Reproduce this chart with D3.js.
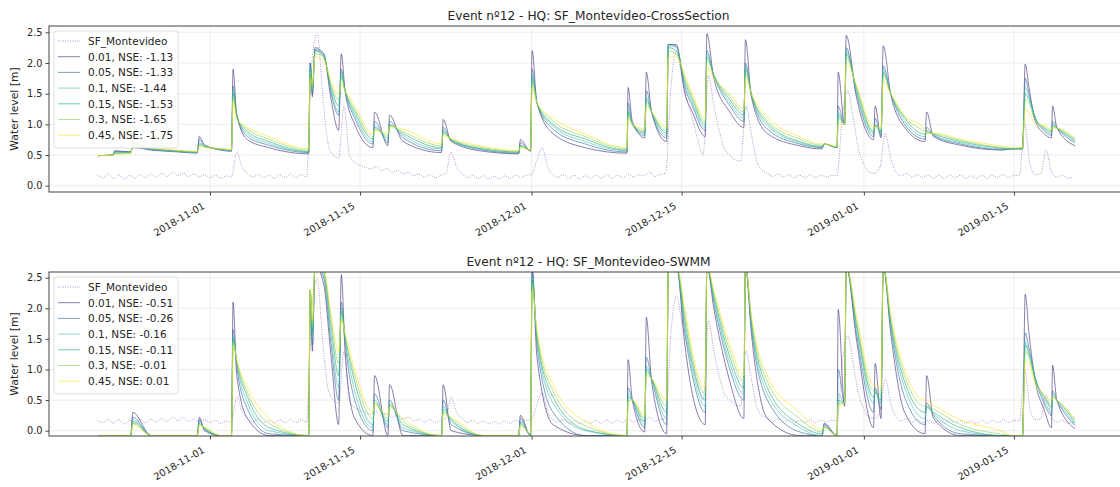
<!DOCTYPE html>
<html>
<head>
<meta charset="utf-8">
<script src="https://cdn.jsdelivr.net/npm/d3@7"></script>
<style>
  html, body { margin: 0; padding: 0; background: #ffffff; }
  svg { display: block; }
  text { font-family: "DejaVu Sans", sans-serif; fill: #262626; }
</style>
</head>
<body>
<svg id="chart" width="1120" height="487"></svg>
<script>
// ---------------- DATA ----------------
// time axis: days since 2018-11-01 00:00 (UTC)
const baseDate = "2018-11-01";
const xTickLabels = ["2018-11-01", "2018-11-15", "2018-12-01", "2018-12-15", "2019-01-01", "2019-01-15"];
const yTickValues = [0.0, 0.5, 1.0, 1.5, 2.0, 2.5];

const titles = ["Event nº12 - HQ: SF_Montevideo-CrossSection", "Event nº12 - HQ: SF_Montevideo-SWMM"];
const obsName = "SF_Montevideo";
const roughness = ["0.01", "0.05", "0.1", "0.15", "0.3", "0.45"];
const nseCrossSection = ["-1.13", "-1.33", "-1.44", "-1.53", "-1.65", "-1.75"];
const nseSWMM = ["-0.51", "-0.26", "-0.16", "-0.11", "-0.01", "0.01"];

// observed water level, sampled every 12 h starting at day -10.5
const obsStart = -10.5;
const obsStep = 0.5;
const observed = [
  0.17,0.13,0.19,0.12,0.18,0.11,0.17,0.12,0.18,0.13,
  0.19,0.14,0.20,0.15,0.22,0.16,0.21,0.15,0.19,0.14,
  0.18,0.13,0.17,0.12,0.16,0.14,0.55,0.30,0.20,0.14,
  0.18,0.13,0.17,0.12,0.18,0.13,0.19,0.13,0.18,0.14,
  2.00,2.48,1.50,0.70,0.50,0.45,1.30,0.50,0.38,0.33,
  0.30,0.27,0.31,0.25,0.28,0.22,0.25,0.19,0.22,0.16,
  0.19,0.14,0.18,0.13,0.17,0.20,0.55,0.30,0.20,0.13,
  0.17,0.12,0.16,0.11,0.15,0.11,0.16,0.12,0.17,0.13,
  0.17,0.18,0.42,0.62,0.30,0.18,0.14,0.18,0.12,0.17,
  0.11,0.16,0.12,0.17,0.12,0.18,0.12,0.17,0.13,0.19,
  0.14,0.18,0.16,0.22,0.15,0.18,0.20,1.60,2.20,1.80,
  1.40,1.10,0.75,0.50,1.80,1.30,0.90,0.60,0.50,0.42,
  0.40,1.30,0.85,0.40,0.25,0.20,0.15,0.19,0.14,0.18,
  0.13,0.17,0.13,0.18,0.13,0.17,0.14,0.17,0.16,1.15,
  1.55,1.10,0.60,0.35,0.22,0.20,0.30,0.85,0.45,0.22,
  0.16,0.20,0.14,0.18,0.13,0.17,0.12,0.17,0.12,0.18,
  0.13,0.17,0.12,0.16,0.12,0.17,0.12,0.17,0.13,0.18,
  0.13,0.17,0.16,1.00,0.35,0.18,0.20,0.58,0.22,0.14,
  0.17,0.12,0.14
];

// simulated series sample times (days since 2018-11-01)
const simDays = [
  -10.4,-9.0,-8.9,-7.4,-7.2,-5.5,-3.0,-1.2,-1.0,-0.5,
  1.0,2.0,2.15,2.5,3.5,5.5,9.2,9.35,9.55,9.8,
  10.6,11.3,12.0,12.25,12.6,13.5,15.2,15.35,16.6,16.75,
  18.0,21.6,21.75,22.5,25.5,28.8,28.95,29.9,30.05,30.5,
  32.0,35.0,38.9,39.0,39.4,40.55,40.7,41.2,42.6,42.75,
  43.5,44.3,45.0,46.2,46.35,47.0,48.5,49.8,49.95,50.5,
  52.0,55.0,57.1,57.3,58.5,58.6,59.2,59.35,60.3,61.9,
  62.05,62.6,62.8,63.5,64.8,66.7,66.85,67.5,70.0,74.0,
  74.8,75.8,76.05,76.4,77.0,77.8,78.5,78.6,79.0,80.7
];

// CrossSection model
const cs001 = [.49,.50,.57,.55,.62,.58,.55,.53,.80,.66, .58,.56,1.90,1.15,.75,.62,.52,2.0,1.45,2.25, 2.15,1.4,.90,2.15,1.55,1.0,.62,1.2,.65,1.15, .72,.54,1.08,.72,.56,.52,.75,.56,2.2,1.35, .85,.62,.53,1.6,1.05,.78,1.85,1.2,.72,2.3, 2.3,1.5,1.2,.8,2.48,1.75,1.2,.95,2.38,1.45, .85,.65,.60,.68,.62,1.85,1.0,2.45,1.45,.75, 1.3,.78,2.28,1.5,.95,.72,1.2,.80,.66,.58, .60,.60,1.98,1.6,1.05,.85,.78,1.3,.95,.65];
const cs005 = [.49,.50,.56,.55,.63,.59,.56,.54,.75,.66, .59,.57,1.62,1.15,.80,.66,.54,2.0,1.5,2.22, 2.15,1.5,1.15,1.9,1.55,1.1,.68,1.05,.70,1.05, .78,.57,.95,.74,.58,.53,.70,.57,1.9,1.35, .92,.68,.55,1.35,1.0,.82,1.55,1.2,.78,2.3, 2.28,1.6,1.3,.9,2.2,1.8,1.3,1.05,2.0,1.5, .92,.68,.62,.68,.62,1.3,1.0,2.25,1.5,.8, 1.1,.82,1.95,1.5,1.0,.76,.95,.82,.68,.59, .60,.60,1.75,1.5,1.1,.9,.82,1.05,.95,.7];
const cs010 = [.49,.50,.54,.54,.66,.60,.56,.54,.70,.65, .59,.57,1.55,1.15,.84,.69,.55,1.95,1.55,2.2, 2.12,1.55,1.2,1.85,1.55,1.15,.72,.98,.74,1.0, .82,.60,.9,.74,.59,.54,.66,.57,1.8,1.35, .97,.72,.57,1.25,1.0,.85,1.45,1.2,.82,2.28, 2.25,1.65,1.35,.95,2.15,1.8,1.35,1.1,1.95,1.5, .98,.70,.63,.68,.62,1.2,1.0,2.2,1.55,.84, 1.0,.85,1.9,1.5,1.05,.80,.9,.83,.70,.60, .60,.61,1.6,1.45,1.1,.92,.85,1.0,.94,.72];
const cs015 = [.49,.50,.53,.54,.68,.60,.57,.55,.68,.64, .60,.58,1.50,1.12,.88,.72,.56,1.9,1.6,2.2, 2.1,1.6,1.3,1.8,1.55,1.2,.76,.95,.78,.98, .85,.62,.88,.75,.60,.55,.65,.58,1.75,1.35, 1.0,.76,.58,1.2,1.0,.87,1.4,1.2,.86,2.25, 2.2,1.7,1.4,1.0,2.1,1.8,1.4,1.15,1.9,1.5, 1.02,.72,.64,.68,.63,1.15,1.0,2.15,1.6,.87, .98,.88,1.85,1.5,1.1,.84,.88,.84,.72,.61, .60,.61,1.5,1.4,1.1,.94,.88,.98,.94,.74];
const cs030 = [.49,.50,.52,.53,.70,.61,.57,.55,.66,.63, .60,.58,1.45,1.10,.92,.76,.58,1.85,1.6,2.15, 2.1,1.65,1.4,1.75,1.55,1.25,.80,.92,.82,.97, .88,.65,.85,.76,.62,.56,.64,.58,1.7,1.35, 1.05,.80,.60,1.15,1.0,.9,1.35,1.2,.9,2.2, 2.15,1.75,1.45,1.05,2.05,1.8,1.45,1.2,1.85,1.5, 1.06,.76,.66,.68,.63,1.1,1.0,2.1,1.6,.9, .96,.9,1.8,1.5,1.12,.88,.86,.85,.74,.62, .61,.62,1.4,1.35,1.05,.96,.9,.96,.94,.76];
const cs045 = [.49,.50,.51,.52,.66,.62,.58,.56,.64,.62, .61,.59,1.38,1.08,.95,.80,.60,1.75,1.65,2.1, 2.05,1.7,1.5,1.65,1.55,1.3,.85,.9,.86,.96, .92,.68,.82,.77,.64,.57,.62,.58,1.6,1.35, 1.1,.84,.62,1.1,1.0,.93,1.3,1.2,.95,2.1, 2.1,1.8,1.5,1.1,1.95,1.75,1.5,1.25,1.75,1.5, 1.12,.80,.68,.68,.64,1.0,1.0,2.0,1.65,.95, .95,.94,1.7,1.5,1.15,.92,.84,.86,.76,.64, .62,.62,1.25,1.2,1.0,.98,.92,.94,.94,.78];

// SWMM model
const sw001 = [-.08,-.08,-.08,-.08,.30,-.08,-.08,-.08,.22,.00, -.08,-.08,2.10,.90,.20,-.08,-.08,2.3,1.3,2.7, 2.4,1.2,.10,2.55,1.3,.2,-.08,.9,-.08,.75, -.08,-.08,.75,.00,-.08,-.08,.25,-.08,2.7,1.2, .1,-.08,-.08,1.16,.5,-.02,1.85,.8,-.05,2.7, 2.7,1.4,.6,.1,2.7,2.0,.8,.2,2.7,1.6, .2,-.08,-.08,.12,-.08,1.98,.4,2.7,1.5,.05, 1.1,.2,2.7,1.6,.3,-.05,.9,.2,-.08,-.08, -.08,-.08,2.23,1.6,.8,.35,.05,1.07,.5,.03];
const sw005 = [-.08,-.08,-.08,-.08,.22,-.08,-.08,-.08,.18,.02, -.08,-.08,1.65,1.05,.35,-.05,-.08,2.3,1.4,2.7, 2.5,1.4,.5,2.1,1.45,.5,.0,.6,.05,.5, .0,-.08,.5,.1,-.08,-.08,.2,-.08,2.6,1.4, .3,-.08,-.08,.7,.5,.05,1.2,.85,.1,2.7, 2.7,1.6,.9,.3,2.7,2.1,1.0,.5,2.7,1.7, .5,-.02,-.08,.1,-.08,1.0,.45,2.7,1.6,.3, .7,.35,2.7,1.7,.55,.1,.45,.25,-.05,-.08, -.08,-.08,1.6,1.35,.85,.45,.25,.65,.5,.08];
const sw010 = [-.08,-.08,-.08,-.08,.18,-.08,-.08,-.08,.15,.03, -.08,-.08,1.55,1.10,.45,.0,-.08,2.3,1.5,2.7, 2.55,1.55,.7,2.0,1.5,.65,.05,.5,.1,.45, .05,-.08,.4,.15,-.08,-.08,.15,-.07,2.5,1.5, .45,.0,-.08,.6,.5,.1,1.05,.85,.2,2.7, 2.7,1.7,1.0,.4,2.7,2.15,1.1,.6,2.7,1.75, .6,.05,-.08,.08,-.08,.6,.45,2.7,1.7,.45, .65,.45,2.7,1.75,.7,.2,.4,.28,.0,-.08, -.08,-.08,1.45,1.3,.85,.5,.3,.6,.5,.1];
const sw015 = [-.08,-.08,-.08,-.08,.15,-.08,-.08,-.08,.12,.04, -.08,-.08,1.5,1.12,.55,.05,-.08,2.3,1.6,2.7, 2.6,1.7,.9,1.95,1.55,.8,.1,.45,.15,.42, .1,-.08,.35,.18,-.08,-.08,.12,-.06,2.45,1.55, .55,.02,-.08,.55,.5,.15,1.0,.85,.3,2.7, 2.7,1.8,1.1,.5,2.7,2.2,1.2,.7,2.7,1.8, .7,.1,-.05,.06,-.08,.5,.45,2.7,1.75,.55, .62,.5,2.7,1.8,.8,.3,.38,.3,.05,-.08, -.08,-.08,1.4,1.25,.85,.55,.38,.55,.5,.13];
const sw030 = [-.08,-.08,-.08,-.08,.12,-.08,-.08,-.08,.10,.05, -.08,-.08,1.45,1.14,.62,.12,-.08,2.3,1.7,2.7, 2.6,1.8,1.1,1.9,1.55,.9,.2,.45,.2,.4, .15,-.08,.3,.2,-.08,-.08,.1,-.05,2.4,1.6, .65,.08,-.08,.5,.5,.2,.95,.85,.4,2.7, 2.7,1.9,1.2,.6,2.7,2.25,1.3,.8,2.7,1.85, .8,.2,-.02,.05,-.08,.45,.45,2.7,1.8,.65, .65,.6,2.7,1.85,.9,.4,.4,.35,.1,-.06, -.08,-.08,1.3,1.2,.8,.58,.42,.55,.5,.17];
const sw045 = [-.08,-.08,-.08,-.08,.10,-.08,-.08,-.08,.08,.06, -.08,-.08,1.4,1.15,.7,.2,-.08,2.3,1.8,2.7, 2.65,1.9,1.3,1.8,1.6,1.0,.3,.45,.25,.4, .2,-.08,.28,.22,-.08,-.08,.08,-.04,2.3,1.65, .75,.15,-.08,.45,.5,.25,.9,.85,.5,2.7, 2.7,2.0,1.3,.7,2.7,2.3,1.4,.9,2.7,1.9, .9,.3,.02,.05,-.08,.4,.45,2.7,1.9,.75, .75,.7,2.7,1.9,1.0,.5,.5,.42,.18,-.02, -.08,-.08,1.15,1.1,.75,.6,.5,.55,.5,.2];

const crossSectionSeries = [cs001, cs005, cs010, cs015, cs030, cs045];
const swmmSeries = [sw001, sw005, sw010, sw015, sw030, sw045];

// ---------------- STYLE ----------------
const simColors = ["#472d7b", "#2c6e9c", "#4cbdb5", "#22ad78", "#86d35a", "#fbe423"];
const obsColor = "#8656b0";

// ---------------- DRAW ----------------
const DAY = 864e5;
const base = Date.parse(baseDate + "T00:00:00Z");
const toDate = d => new Date(base + d * DAY);

const svg = d3.select("#chart");

const panels = [
  { title: titles[0], nse: nseCrossSection, series: crossSectionSeries,
    top: 26, bottom: 192, yDomain: [-0.103, 2.603], titleY: 19.5 },
  { title: titles[1], nse: nseSWMM, series: swmmSeries,
    top: 272, bottom: 436, yDomain: [-0.087, 2.593], titleY: 265.5 }
];

const left = 49, right = 1128;
const x = d3.scaleUtc()
  .domain([toDate(-15.02), toDate(85.64)])
  .range([left, right]);

const xTicks = xTickLabels.map(s => new Date(Date.parse(s + "T00:00:00Z")));
const obsData = observed.map((v, i) => ({ t: toDate(obsStart + i * obsStep), v }));

panels.forEach((p, pi) => {
  const y = d3.scaleLinear().domain(p.yDomain).range([p.bottom, p.top]);
  const g = svg.append("g");

  const clipId = "clip" + pi;
  svg.append("defs").append("clipPath").attr("id", clipId)
    .append("rect").attr("x", left).attr("y", p.top)
    .attr("width", right - left).attr("height", p.bottom - p.top);

  // grid
  g.append("g").selectAll("line.hy").data(yTickValues).join("line")
    .attr("x1", left).attr("x2", right)
    .attr("y1", d => y(d)).attr("y2", d => y(d))
    .attr("stroke", "#e8e8e8").attr("stroke-width", 0.8);
  g.append("g").selectAll("line.vx").data(xTicks).join("line")
    .attr("x1", d => x(d)).attr("x2", d => x(d))
    .attr("y1", p.top).attr("y2", p.bottom)
    .attr("stroke", "#e8e8e8").attr("stroke-width", 0.8);

  const line = d3.line()
    .x(d => x(d.t)).y(d => y(d.v))
    .curve(d3.curveMonotoneX);

  const plot = g.append("g").attr("clip-path", `url(#${clipId})`);

  plot.append("path")
    .datum(obsData)
    .attr("d", line)
    .attr("fill", "none")
    .attr("stroke", obsColor)
    .attr("stroke-opacity", 0.7)
    .attr("stroke-width", 0.9)
    .attr("stroke-dasharray", "1,1.4");

  p.series.forEach((vals, si) => {
    const data = vals.map((v, i) => ({ t: toDate(simDays[i]), v }));
    plot.append("path")
      .datum(data)
      .attr("d", line)
      .attr("fill", "none")
      .attr("stroke", simColors[si])
      .attr("stroke-opacity", 0.62)
      .attr("stroke-width", 1);
  });

  // axes
  const yAxis = d3.axisLeft(y).tickValues(yTickValues).tickFormat(d3.format(".1f"))
    .tickSize(3.5).tickPadding(3);
  const ya = g.append("g").attr("transform", `translate(${left},0)`).call(yAxis);
  ya.select(".domain").remove();
  ya.selectAll("line").attr("stroke", "#444");
  ya.selectAll("text").attr("font-size", 9.8).attr("fill", "#262626")
    .style("font-family", "DejaVu Sans");

  const xAxis = d3.axisBottom(x).tickValues(xTicks).tickFormat(d3.utcFormat("%Y-%m-%d"))
    .tickSize(3.5);
  const xa = g.append("g").attr("transform", `translate(0,${p.bottom})`).call(xAxis);
  xa.select(".domain").remove();
  xa.selectAll("line").attr("stroke", "#444");
  xa.selectAll("text")
    .attr("font-size", 9.8).attr("fill", "#262626")
    .style("font-family", "DejaVu Sans")
    .attr("text-anchor", "end")
    .attr("dy", null)
    .attr("y", null)
    .attr("transform", "translate(-5,16) rotate(-30)");

  // frame
  g.append("rect")
    .attr("x", left).attr("y", p.top)
    .attr("width", right - left).attr("height", p.bottom - p.top)
    .attr("fill", "none").attr("stroke", "#444").attr("stroke-width", 1);

  // title
  g.append("text")
    .attr("x", (left + right) / 2).attr("y", p.titleY)
    .attr("text-anchor", "middle").attr("font-size", 12.2)
    .text(p.title);

  // y label
  g.append("text")
    .attr("transform", `translate(18,${(p.top + p.bottom) / 2}) rotate(-90)`)
    .attr("text-anchor", "middle").attr("font-size", 10.8)
    .text("Water level [m]");

  // legend
  const lx = 54, ly = p.top + 5, lw = 124, lh = 117, sp = 15.7;
  const leg = g.append("g");
  leg.append("rect").attr("x", lx).attr("y", ly).attr("width", lw).attr("height", lh)
    .attr("rx", 3).attr("fill", "#ffffff").attr("fill-opacity", 0.85)
    .attr("stroke", "#d5d5d5").attr("stroke-width", 0.8);
  const entries = [{ label: obsName, color: obsColor, dash: "1,1.4", op: 0.7 }]
    .concat(roughness.map((r, i) => ({ label: `${r}, NSE: ${p.nse[i]}`, color: simColors[i], dash: null, op: 0.62 })));
  entries.forEach((e, i) => {
    const cy = ly + 10 + i * sp;
    leg.append("line").attr("x1", lx + 4).attr("x2", lx + 26)
      .attr("y1", cy).attr("y2", cy)
      .attr("stroke", e.color).attr("stroke-opacity", e.op)
      .attr("stroke-width", 1)
      .attr("stroke-dasharray", e.dash);
    leg.append("text").attr("x", lx + 34).attr("y", cy + 3.8)
      .attr("font-size", 10.5).text(e.label);
  });
});
</script>
</body>
</html>
